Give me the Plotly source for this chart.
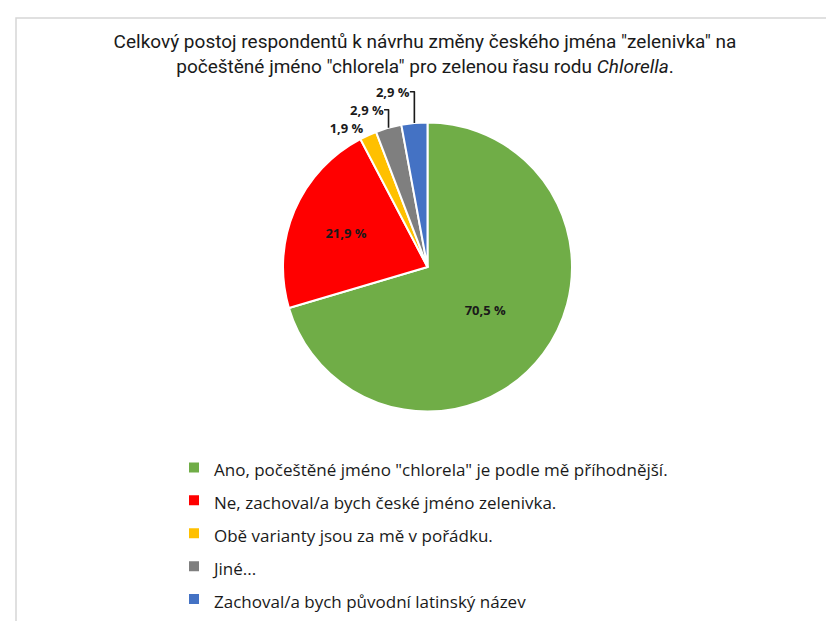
import plotly.graph_objects as go

labels = [
    'Ano, počeštěné jméno "chlorela" je podle mě příhodnější.',
    'Ne, zachoval/a bych české jméno zelenivka.',
    'Obě varianty jsou za mě v pořádku.',
    'Jiné...',
    'Zachoval/a bych původní latinský název',
]
values = [70.5, 21.9, 1.9, 2.9, 2.9]
colors = ["#70AD47", "#FF0000", "#FFC000", "#7F7F7F", "#4472C4"]
positions = ["inside", "inside", "outside", "outside", "outside"]

W, H = 834, 621
cx, cy, r = 419.5, 259, 144.5

fig = go.Figure(go.Pie(
    labels=[f'<span style="font-size:17px">{l}</span>' for l in labels],
    values=values,
    sort=False,
    direction="clockwise",
    rotation=0,
    marker=dict(colors=colors, line=dict(color="white", width=2)),
    texttemplate="<b>%{value:.1f} %</b>",
    textposition=positions,
    insidetextorientation="horizontal",
    textfont=dict(family="Open Sans, Arial", size=13, color="#1a1a1a"),
    outsidetextfont=dict(family="Open Sans, Arial", size=13, color="#1a1a1a"),
    hoverinfo="label+value",
    domain=dict(x=[(cx - r) / W, (cx + r) / W], y=[(H - cy - r) / H, (H - cy + r) / H]),
))

fig.update_layout(
    width=W, height=H,
    margin=dict(l=0, r=0, t=0, b=0),
    paper_bgcolor="white",
    separators=", ",
    title=dict(
        text='Celkový postoj respondentů k návrhu změny českého jména "zelenivka" na<br>počeštěné jméno "chlorela" pro zelenou řasu rodu <i>Chlorella</i>.',
        x=0.5, xanchor="center", y=1 - 40 / H, yanchor="top",
        font=dict(family="Roboto, Arial", size=19, color="#1a1a1a"),
    ),
    legend=dict(
        x=166 / W, xanchor="left", y=1 - 438 / H, yanchor="top",
        font=dict(family="Open Sans, Arial", size=23, color="#1a1a1a"),
        bgcolor="rgba(0,0,0,0)",
    ),
    shapes=[dict(type="rect", xref="paper", yref="paper",
                 x0=8 / W, x1=1.05, y0=-0.05, y1=1 - 10 / H,
                 line=dict(color="#d6d6d6", width=1.5), fillcolor="rgba(0,0,0,0)", layer="below")],
)

fig.write_html("out.html")
